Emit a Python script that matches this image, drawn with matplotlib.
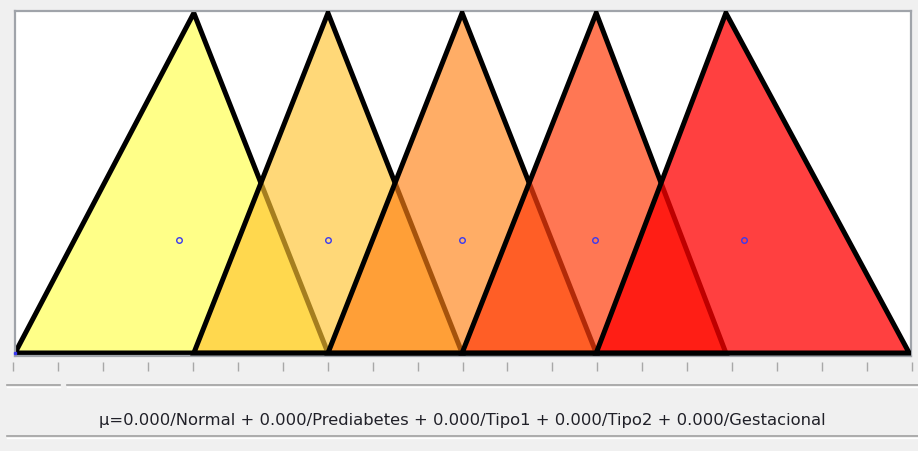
import matplotlib
matplotlib.use('Agg')
import matplotlib.pyplot as plt
from matplotlib.patches import Polygon
from matplotlib.lines import Line2D

# membership functions (triangles: start, peak, end)
names = ['Normal', 'Prediabetes', 'Tipo1', 'Tipo2', 'Gestacional']
starts = [0, 4, 7, 10, 13]
peaks = [4, 7, 10, 13, 15.9]
ends = [7, 10, 13, 15.9, 20]
mu_values = [0.0, 0.0, 0.0, 0.0, 0.0]

fill_colors = ['#FFFF48', '#FFC330', '#FF8114', '#FF3D0C', '#FF0000']
fill_alphas = [0.65, 0.65, 0.65, 0.70, 0.75]

tick_values = list(range(0, 21))

W, H = 918, 452
fig = plt.figure(figsize=(W / 100, H / 100), dpi=100)
fig.patch.set_facecolor('#F0F0F0')

# main plot area (pixel box 15..911 x 12..357)
ax = fig.add_axes([15 / W, 1 - 357 / H, 896 / W, 345 / H])
ax.set_facecolor('white')
ax.set_xlim(0, 20.04)
ax.set_ylim(-3 / 340, 1 + 2 / 340)
ax.set_xticks([])
ax.set_yticks([])
for sp in ax.spines.values():
    sp.set_color('#A0A4AA')
    sp.set_linewidth(1.6)

for i in range(len(names)):
    pts = [(starts[i], 0), (peaks[i], 1), (ends[i], 0)]
    r, g, b = matplotlib.colors.to_rgb(fill_colors[i])
    poly = Polygon(pts, closed=True, facecolor=(r, g, b, fill_alphas[i]),
                   edgecolor='black', linewidth=3.6, joinstyle='miter',
                   zorder=2 + i)
    ax.add_patch(poly)

# centroids
cx = [(s + p + e) / 3 for s, p, e in zip(starts, peaks, ends)]
cy = [1 / 3] * len(names)
ax.plot(cx, cy, 'o', ms=4, mfc='none', mec='#3A3AF0', mew=1.0, zorder=20)
ax.plot([starts[0]], [0], 's', ms=2, color='#3A3AF0', zorder=21, clip_on=False)

# tick strip below
tax = fig.add_axes([13 / W, 1 - 363 / H, 899 / W, 0.0001])
tax.set_xlim(0, 20)
tax.set_xticks(tick_values)
tax.set_xticklabels([])
tax.set_yticks([])
tax.tick_params(axis='x', direction='out', length=6.5, width=1.0, color='#A8A8A8')
for sp in tax.spines.values():
    sp.set_visible(False)
tax.patch.set_alpha(0)


def hline(y, x0, x1, color, lw=1.0):
    fig.add_artist(Line2D([x0 / W, x1 / W], [1 - y / H, 1 - y / H],
                          color=color, linewidth=lw, transform=fig.transFigure))


# slider track / separators
hline(386, 7, 60, '#A0A0A0', 1.2)
hline(388, 7, 60, '#FFFFFF', 1.0)
hline(386, 67, 918, '#A0A0A0', 1.2)
hline(388, 67, 918, '#FFFFFF', 1.0)
hline(437, 7, 918, '#A0A0A0', 1.2)
hline(439, 7, 918, '#FFFFFF', 1.0)

label = 'μ=' + ' + '.join('%.3f/%s' % (m, n) for m, n in zip(mu_values, names))
fig.text(462 / W, 1 - 421 / H, label, ha='center', va='center',
         fontsize=11.8, color='#202028', family='DejaVu Sans')

plt.savefig('out.png', dpi=100)
